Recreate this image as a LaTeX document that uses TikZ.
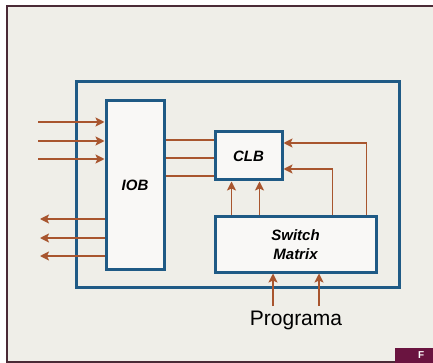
\documentclass[tikz,border=0pt]{standalone}
\usepackage{fontspec}
\setmainfont{Liberation Sans}
\usepackage{tikz}
\usetikzlibrary{arrows.meta,positioning}

\definecolor{boxblue}{HTML}{1F5A85}
\definecolor{wire}{HTML}{A8552E}
\definecolor{paper}{HTML}{EFEEE8}
\definecolor{frame}{HTML}{4A2A36}
\definecolor{tab}{HTML}{6A1440}

\begin{document}
\begin{tikzpicture}[
 x=1pt,y=-1pt,
 block/.style={draw=boxblue,line width=3pt,fill=white!60!paper,align=center,font=\bfseries\itshape\fontsize{15}{19}\selectfont},
 link/.style={wire,line width=1.6pt},
 arrow/.style={link,-{Stealth[length=9pt,width=9pt,inset=2pt]}}]
\useasboundingbox (0,0) rectangle (433,363);
% page
\fill[white] (0,0) rectangle (433,363);
\fill[paper] (7,6) rectangle (440,362);
\draw[frame,line width=1.8pt] (440,6) -- (7,6) -- (7,362) -- (440,362);
\fill[tab] (395,348) rectangle (440,368);
\node[text=white,font=\bfseries\fontsize{10}{10}\selectfont,anchor=north west,inner sep=0pt] (tabF) at (418,351) {F};
% chip
\node[draw=boxblue,line width=3pt,minimum width=323pt,minimum height=205pt] (fpga) at (237.5,184.5) {};
\node[block,minimum width=58pt,minimum height=168pt] (iob) at (135,185) {IOB};
\node[block,minimum width=67pt,minimum height=48pt] (clb) at (248.5,156) {CLB};
\node[block,minimum width=161pt,minimum height=55pt] (sw) at (295.5,244.5) {Switch\\Matrix};
\node[font=\fontsize{21}{21}\selectfont] (prog) at (296,320) {Programa};
% pins
\coordinate (in1) at (38,122);
\coordinate (in2) at (38,141);
\coordinate (in3) at (38,159);
\coordinate (out1) at (40,219);
\coordinate (out2) at (40,238);
\coordinate (out3) at (40,256);
\foreach \p in {in1,in2,in3}
  \draw[arrow] (\p) -- (\p -| iob.west);
\foreach \p in {out1,out2,out3}
  \draw[arrow] (\p -| iob.west) -- (\p);
% IOB to CLB
\foreach \s in {16,-2,-20}
  \draw[link] ([yshift=\s pt]iob.east |- clb.west) -- ([yshift=\s pt]clb.west);
% switch matrix to CLB
\foreach \s in {18,46}
  \draw[arrow] ([xshift=\s pt]clb.south west |- sw.north) -- ([xshift=\s pt]clb.south west);
\draw[arrow] ([xshift=-11pt]sw.north east) |- ([yshift=13pt]clb.east);
\draw[arrow] ([xshift=-45pt]sw.north east) |- ([yshift=-13pt]clb.east);
% program inputs
\foreach \s in {-23,23}
  \draw[arrow] ([xshift=\s pt,yshift=1pt]prog.north) -- ([xshift=\s pt]prog.north |- sw.south);
\end{tikzpicture}
\end{document}
